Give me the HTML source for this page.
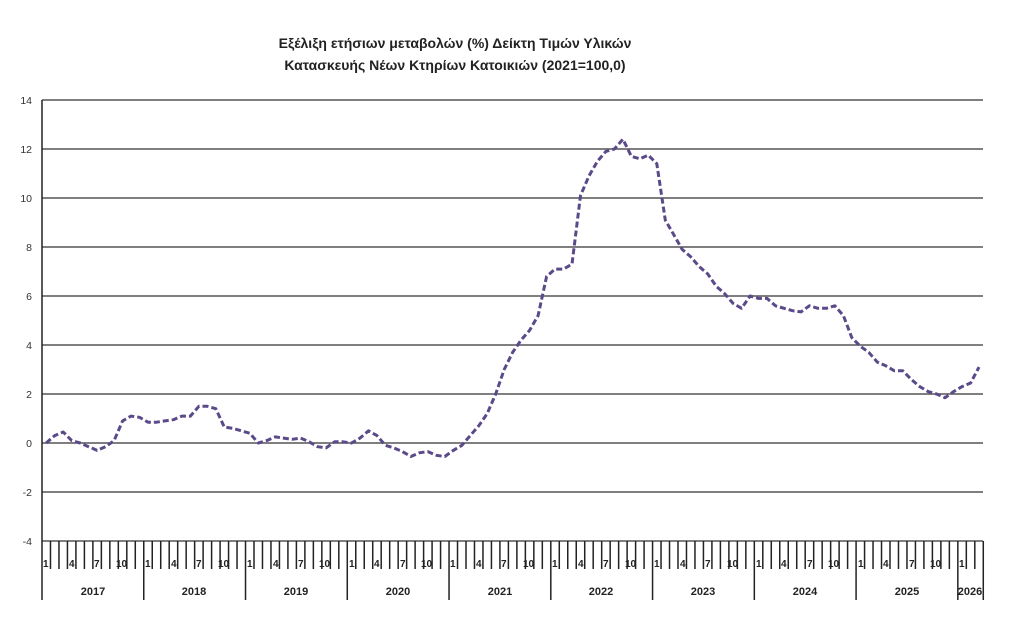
<!DOCTYPE html>
<html><head><meta charset="utf-8"><style>
html,body{margin:0;padding:0;background:#fff;}
svg{display:block;font-family:"Liberation Sans",sans-serif;}
</style></head><body>
<svg id="s" width="1024" height="622" viewBox="0 0 1024 622">
<g fill="#222" font-weight="bold" font-size="14" text-anchor="middle">
<text x="455" y="48">Εξέλιξη ετήσιων μεταβολών (%) Δείκτη Τιμών Υλικών</text>
<text x="455" y="70">Κατασκευής Νέων Κτηρίων Κατοικιών (2021=100,0)</text>
</g>
<g fill="#333" font-size="10.5" text-anchor="end">
<text x="32" y="104">14</text><text x="32" y="153">12</text><text x="32" y="202">10</text>
<text x="32" y="251">8</text><text x="32" y="300">6</text><text x="32" y="349">4</text>
<text x="32" y="398">2</text><text x="32" y="447">0</text><text x="32" y="496">-2</text>
<text x="32" y="545">-4</text>
</g>
<g id="grid" stroke="#555" stroke-width="1.4"></g>
<g id="ticks" stroke="#222" stroke-width="1.5"></g>
<g fill="#222" font-size="10" font-weight="bold">
<text x="43" y="567">1</text><text x="69" y="567">4</text><text x="94" y="567">7</text><text x="116" y="567">10</text>
<text x="145" y="567">1</text><text x="171" y="567">4</text><text x="196" y="567">7</text><text x="218" y="567">10</text>
<text x="247" y="567">1</text><text x="273" y="567">4</text><text x="298" y="567">7</text><text x="319" y="567">10</text>
<text x="349" y="567">1</text><text x="374" y="567">4</text><text x="400" y="567">7</text><text x="421" y="567">10</text>
<text x="450" y="567">1</text><text x="476" y="567">4</text><text x="501" y="567">7</text><text x="523" y="567">10</text>
<text x="552" y="567">1</text><text x="578" y="567">4</text><text x="603" y="567">7</text><text x="625" y="567">10</text>
<text x="654" y="567">1</text><text x="680" y="567">4</text><text x="705" y="567">7</text><text x="727" y="567">10</text>
<text x="756" y="567">1</text><text x="781" y="567">4</text><text x="807" y="567">7</text><text x="828" y="567">10</text>
<text x="858" y="567">1</text><text x="883" y="567">4</text><text x="909" y="567">7</text><text x="930" y="567">10</text>
<text x="959" y="567">1</text>
</g>
<g fill="#222" font-size="11" font-weight="bold" text-anchor="middle">
<text x="93" y="595">2017</text><text x="194" y="595">2018</text><text x="296" y="595">2019</text>
<text x="398" y="595">2020</text><text x="500" y="595">2021</text><text x="601" y="595">2022</text>
<text x="703" y="595">2023</text><text x="805" y="595">2024</text><text x="907" y="595">2025</text>
<text x="970" y="595">2026</text>
</g>
<polyline id="ln" fill="none" stroke="#5b4a8a" stroke-width="3" stroke-dasharray="6 3" stroke-linejoin="round"/>
</svg>
<script>
var ns="http://www.w3.org/2000/svg",X0=42,W=8.48,N=111;
function L(g,x1,y1,x2,y2){var l=document.createElementNS(ns,"line");l.setAttribute("x1",x1);l.setAttribute("y1",y1);l.setAttribute("x2",x2);l.setAttribute("y2",y2);document.getElementById(g).appendChild(l);}
for(var v=14;v>=-4;v-=2){var y=443-v*24.5;L("grid",X0,y,983,y);}
L("ticks",X0,100,X0,600);
for(var i=1;i<=N;i++){var x=X0+W*i;L("ticks",x,541,x,(i%12==0||i==N)?600:569);}
var d=[0,0.3,0.45,0.1,0,-0.15,-0.3,-0.15,0.1,0.9,1.1,1.05,
0.85,0.85,0.9,0.95,1.1,1.1,1.5,1.5,1.4,0.65,0.6,0.5,
0.4,0,0.1,0.25,0.2,0.15,0.2,0.05,-0.15,-0.2,0.05,0.05,
0,0.2,0.5,0.3,-0.1,-0.2,-0.35,-0.55,-0.4,-0.35,-0.5,-0.55,
-0.3,-0.1,0.3,0.7,1.2,2.0,3.0,3.7,4.2,4.6,5.2,6.8,
7.1,7.1,7.3,10.1,10.9,11.5,11.9,12.0,12.4,11.7,11.6,11.75,
11.4,9.1,8.5,7.9,7.6,7.2,6.9,6.4,6.1,5.7,5.5,6.0,
5.9,5.9,5.6,5.5,5.4,5.35,5.6,5.5,5.5,5.6,5.2,4.3,
3.95,3.7,3.3,3.15,2.95,2.95,2.6,2.3,2.1,2.0,1.85,2.1,
2.3,2.45,3.1];
var p=[];for(var i=0;i<d.length;i++)p.push((X0+W*(i+0.5)).toFixed(1)+","+(443-d[i]*24.5).toFixed(1));
document.getElementById("ln").setAttribute("points",p.join(" "));
</script>
</body></html>
